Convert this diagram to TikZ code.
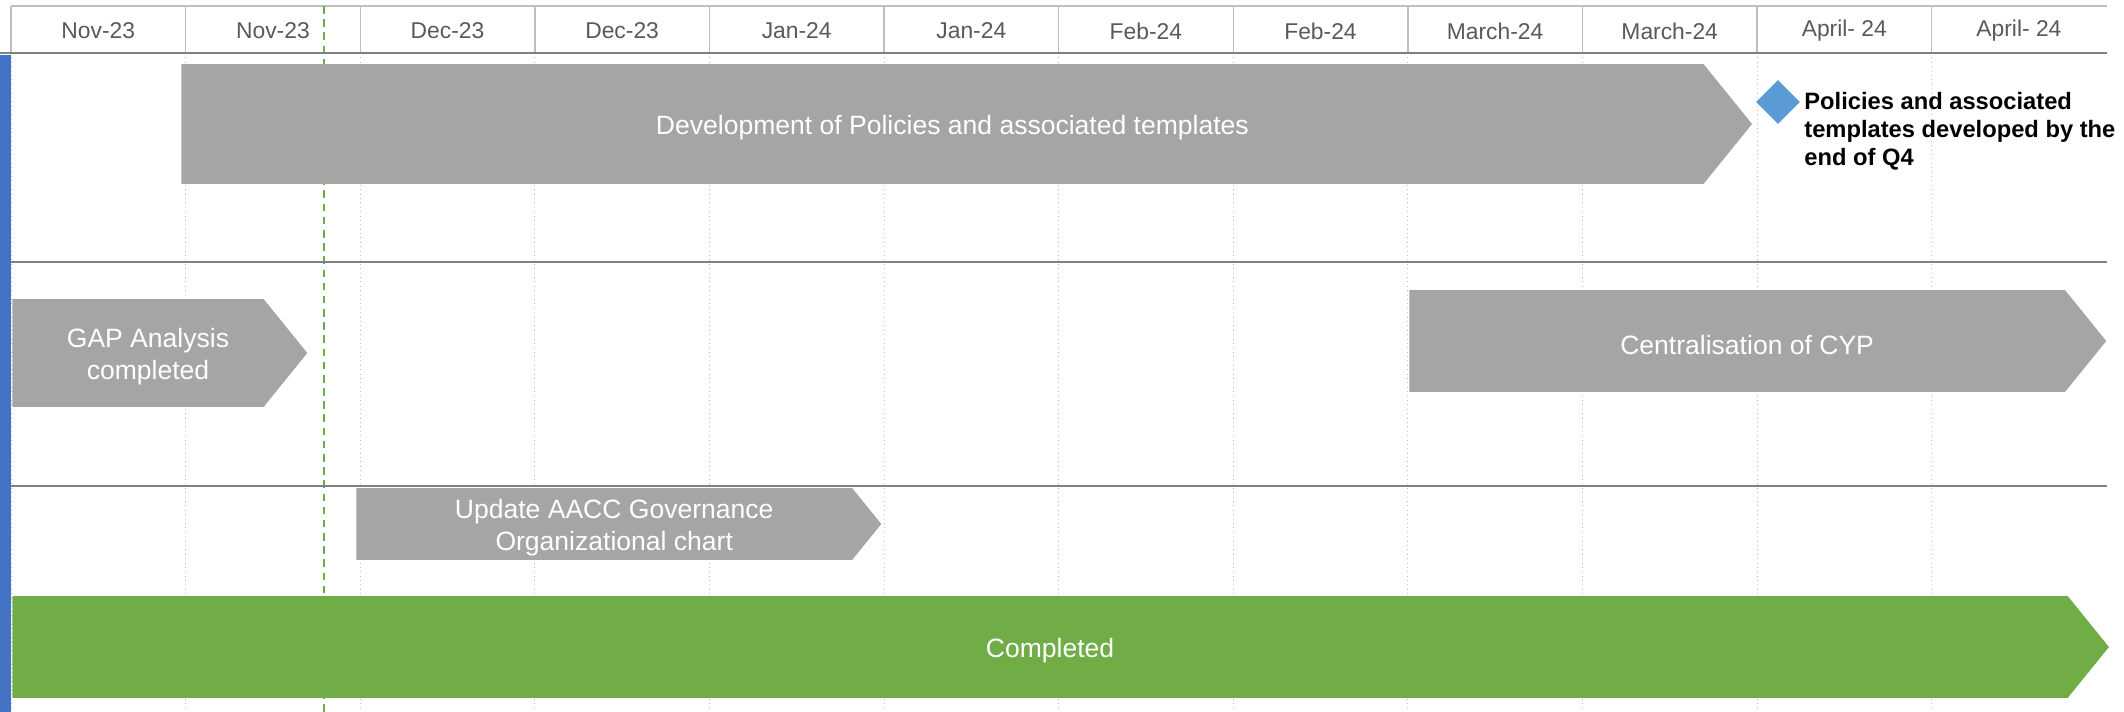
\documentclass[tikz,border=0pt]{standalone}
\usepackage{fontspec}
\setmainfont{Liberation Sans}
\usetikzlibrary{shapes.symbols, shapes.geometric}

\definecolor{barGray}{HTML}{A5A5A5}
\definecolor{doneGreen}{HTML}{70AD47}
\definecolor{laneBlue}{HTML}{4472C4}
\definecolor{mileBlue}{HTML}{5B9BD5}
\definecolor{hdrText}{HTML}{595959}
\definecolor{laneLine}{HTML}{808080}
\definecolor{gridGray}{HTML}{BFBFBF}

\begin{document}
\begin{tikzpicture}[x=0.02cm, y=-0.02cm,
  task/.style={shape=signal, signal to=east, signal pointer angle=102,
               fill=barGray, inner sep=0pt, anchor=west},
  done/.style={task, fill=doneGreen},
  bartxt/.style={text=white, align=center, xshift=0.2cm, yshift=-0.08cm,
                 font=\fontsize{15.1}{18.1}\selectfont},
  month/.style={text=hdrText, font=\fontsize{13}{15}\selectfont},
  mile/.style={diamond, fill=mileBlue, inner sep=0pt,
               minimum width=0.88cm, minimum height=0.88cm},
  miletxt/.style={anchor=north west, align=left, inner sep=0pt,
                  font=\fontsize{13.5}{15.9}\selectfont\bfseries},
  hdrline/.style={draw=gridGray, line width=0.8pt},
  gridv/.style={draw=gridGray, line width=0.5pt, dotted},
  lane/.style={draw=laneLine, line width=1.7pt},
  today/.style={draw=doneGreen, line width=1.1pt, dash pattern=on 4.3pt off 3.2pt},
]

\useasboundingbox (0,0) rectangle (2124,712);

% --- Grid ---
\foreach \i in {0,...,11} {
  \draw[gridv] ({11+174.6*\i},53) -- ({11+174.6*\i},712);
  \draw[hdrline] ({11+174.6*\i},6) -- ({11+174.6*\i},53);
}
\draw[hdrline] (11,6) -- (2107,6);

% --- Status date ---
\draw[today] (324,6) -- (324,712);

% --- Month header ---
\foreach \m [count=\i from 0] in {Nov-23, Nov-23, Dec-23, Dec-23, Jan-24, Jan-24,
    Feb-24, Feb-24, March-24, March-24, April- 24, April- 24}
  \node[month] (m\i) at ({11+174.6*(\i+0.5)},31) {\m};

% --- Swimlanes ---
\draw[lane] (0,53) -- (2107,53);
\draw[lane] (0,262) -- (2107,262);
\draw[lane] (0,486) -- (2107,486);
\fill[laneBlue] (0,55) rectangle (11,712);

% --- Lane 1 ---
\node[task, minimum width=31.42cm, minimum height=2.4cm,
      label={[bartxt]center:Development of Policies and associated templates}]
  (policies) at (181,124) {};
\node[mile] (q4) at (1778,102) {};
\node[miletxt] (q4txt) at (1804,92)
  {Policies and associated\\templates developed by the\\end of Q4};

% --- Lane 2 ---
\node[task, minimum width=5.9cm, minimum height=2.16cm,
      label={[bartxt]center:{GAP Analysis\\completed}}]
  (gap) at (12,353) {};
\node[task, minimum width=13.94cm, minimum height=2.04cm,
      label={[bartxt]center:Centralisation of CYP}]
  (cyp) at (1409,341) {};

% --- Lane 3 ---
\node[task, minimum width=10.5cm, minimum height=1.44cm,
      label={[bartxt]center:{Update AACC Governance\\Organizational chart}}]
  (aacc) at (356,524) {};
\node[done, minimum width=41.94cm, minimum height=2.04cm,
      label={[bartxt]center:Completed}]
  (completed) at (12,647) {};

\end{tikzpicture}
\end{document}
